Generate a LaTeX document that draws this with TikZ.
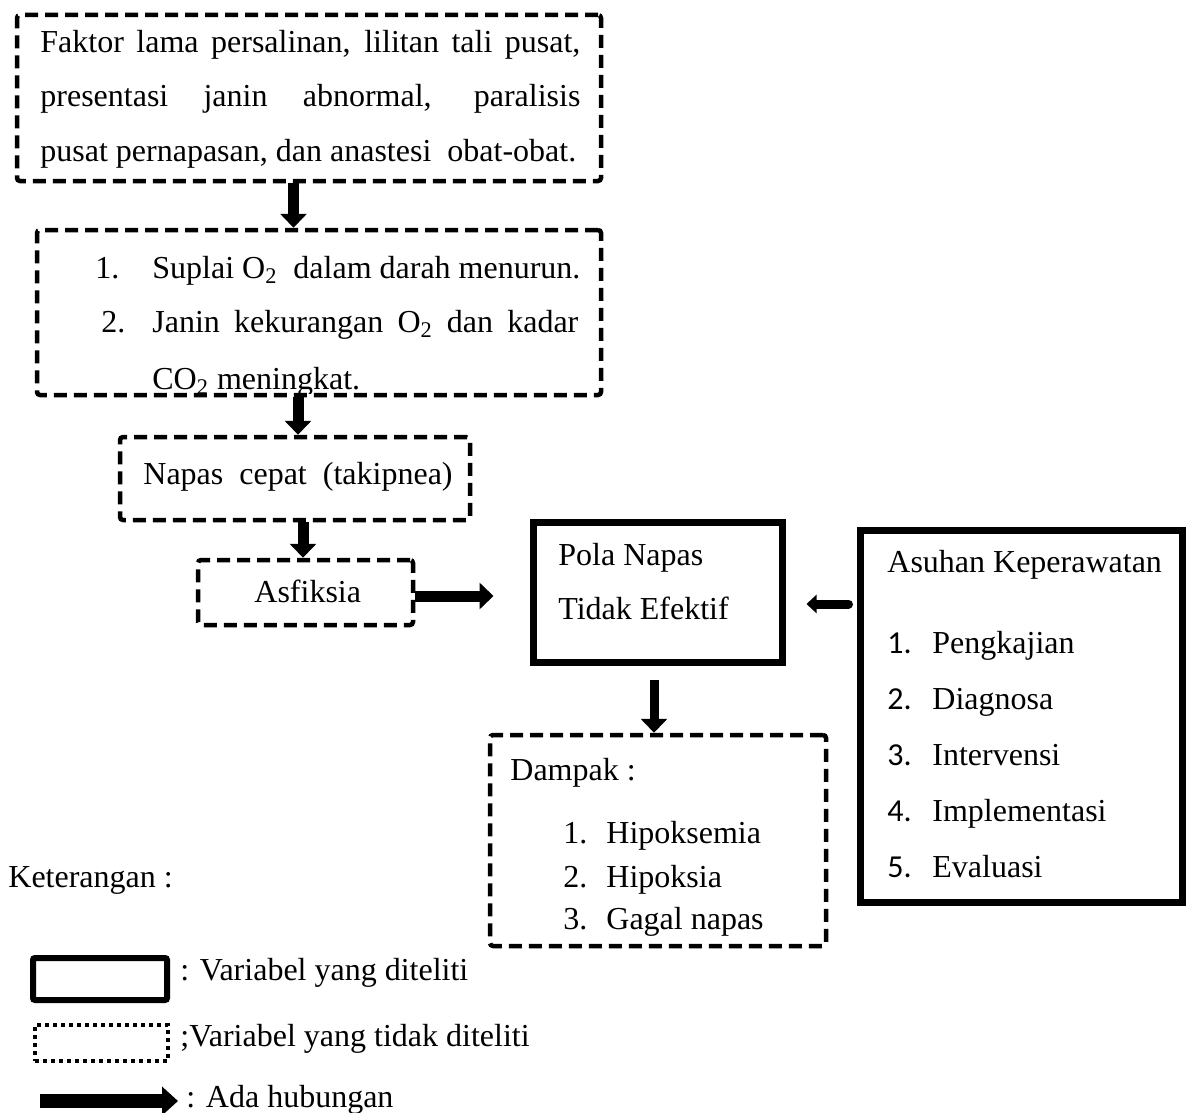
\documentclass[tikz,border=0pt]{standalone}
\usepackage{fontspec}
\setmainfont{Liberation Serif}
\newfontfamily\calib{Carlito}
\usetikzlibrary{arrows.meta,fit}
\begin{document}
\begin{tikzpicture}[x=0.5pt,y=-0.5pt,
  dbox/.style={draw, line width=2.25pt, dash pattern=on 6.5pt off 3.5pt, rounded corners=1.5pt, inner sep=0pt},
  sbox/.style={draw, line width=3.5pt, inner sep=0pt},
  lbox/.style={draw, line width=3pt, rounded corners=1pt, inner sep=0pt},
  dotbox/.style={draw, line width=2pt, dash pattern=on 2pt off 2pt, inner sep=0pt},
  txt/.style={font=\fontsize{16}{19}\selectfont, inner sep=0pt, anchor=base west},
  bigarrow/.style={line width=5.5pt, -{Triangle[length=7pt,width=13pt]}},
  smallarrow/.style={line width=4.5pt, line cap=round, -{Triangle[length=5pt,width=9pt]}},
  legarrow/.style={line width=7pt, -{Triangle[length=8pt,width=14pt]}}
]
\useasboundingbox (0,0) rectangle (1194,1113);

% boxes
\node[dbox, fit={(17,15) (601,181)}] (b1) {};
\node[dbox, fit={(37,230) (601,395)}] (b2) {};
\node[dbox, fit={(120,437) (470,520)}] (b3) {};
\node[dbox, fit={(198,560) (413,625)}] (b4) {};
\node[sbox, fit={(533,522) (782,662)}] (b5) {};
\node[sbox, fit={(860,530) (1182,902)}] (b6) {};
\node[dbox, fit={(490,735) (826,946)}] (b7) {};

% box 1 text
\node[txt] (t11) at (40,53) {\makebox[270pt][s]{Faktor lama persalinan, lilitan tali pusat,}};
\node[txt] (t12) at (40,107) {\makebox[270pt][s]{presentasi janin abnormal, paralisis}};
\node[txt] (t13) at (40,162) {pusat pernapasan, dan anastesi\ \ obat-obat.};

% box 2 text
\node[txt] (n21) at (95,278) {1.};
\node[txt] (t21) at (152,278) {Suplai O\textsubscript{2}\ \ dalam darah menurun.};
\node[txt] (n22) at (101,332) {2.};
\node[txt] (t22) at (152,332) {\makebox[213pt][s]{Janin kekurangan O\textsubscript{2} dan kadar}};
\begin{scope}
\clip (0,0) rectangle (1194,393);
\node[txt] (t23) at (152,389) {CO\textsubscript{2} meningkat.};
\end{scope}

% box 3, 4
\node[txt] (t3) at (143,484) {Napas\ \ cepat\ \ (takipnea)};
\node[txt] (t4) at (254,602) {Asfiksia};

% box 5
\node[txt] (t51) at (558,565) {Pola Napas};
\node[txt] (t52) at (558,619) {Tidak Efektif};

% box 6
\node[txt] (t60) at (887,572) {Asuhan Keperawatan};
\node[txt] (n61) at (887,653) {\calib 1.};
\node[txt] (t61) at (932,653) {Pengkajian};
\node[txt] (n62) at (887,709) {\calib 2.};
\node[txt] (t62) at (932,709) {Diagnosa};
\node[txt] (n63) at (887,765) {\calib 3.};
\node[txt] (t63) at (932,765) {Intervensi};
\node[txt] (n64) at (887,821) {\calib 4.};
\node[txt] (t64) at (932,821) {Implementasi};
\node[txt] (n65) at (887,877) {\calib 5.};
\node[txt] (t65) at (932,877) {Evaluasi};

% box 7
\node[txt] (t70) at (510,780) {Dampak :};
\node[txt] (n71) at (563,843) {1.};
\node[txt] (t71) at (606,843) {Hipoksemia};
\node[txt] (n72) at (563,887) {2.};
\node[txt] (t72) at (606,887) {Hipoksia};
\node[txt] (n73) at (563,929) {3.};
\node[txt] (t73) at (606,929) {Gagal napas};

% connectors
\coordinate (x1) at (293.5,0);
\coordinate (x2) at (298,0);
\coordinate (x3) at (303,0);
\coordinate (x6) at (654,0);
\coordinate (y4) at (0,596);
\coordinate (y5) at (0,604);
\draw[bigarrow] (b1.south -| x1) -- (b2.north -| x1);
\draw[bigarrow] (b2.south -| x2) -- (b3.north -| x2);
\draw[bigarrow] (b3.south -| x3) -- (b4.north -| x3);
\draw[bigarrow, shorten >=18pt] (b4.east |- y4) -- (b5.west |- y4);
\draw[smallarrow, shorten <=4pt, shorten >=10.5pt] (b6.west |- y5) -- (b5.east |- y5);
\draw[bigarrow, line width=4.5pt, shorten <=7pt] (b5.south -| x6) -- (b7.north -| x6);

% legend
\node[txt] (k) at (8,887) {Keterangan :};
\node[lbox, fit={(33,958) (167,1000)}] (l1) {};
\node[dotbox, fit={(35,1025) (168,1061)}] (l2) {};
\coordinate (la1) at (40,1101);
\coordinate (la2) at (178,1101);
\draw[legarrow] (la1) -- (la2);
\node[txt] (k1) at (180,980) {: Variabel yang diteliti};
\node[txt] (k2) at (180,1046) {;Variabel yang tidak diteliti};
\node[txt] (k3) at (186,1107) {: Ada hubungan};
\end{tikzpicture}
\end{document}
